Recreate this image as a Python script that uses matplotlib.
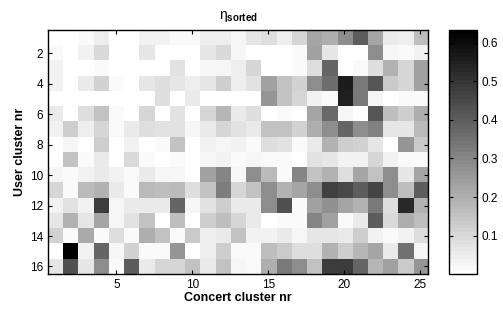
import matplotlib
matplotlib.use("Agg")
import matplotlib.pyplot as plt
import numpy as np

plt.rcParams['font.family'] = ['Liberation Sans', 'DejaVu Sans']
plt.rcParams['mathtext.fontset'] = 'custom'
plt.rcParams['mathtext.rm'] = 'Liberation Sans'
plt.rcParams['mathtext.bf'] = 'Liberation Sans:bold'

# eta values, rows = user cluster 1..16, columns = concert cluster 1..25
r1 = [0, 0, .017, .042, 0, 0, .032, .032, .017, .017, .042, .042, .025, .062, .082, .042, .099, .223, .199, .285, .397, .223, .057, .042, .161]
r2 = [.012, 0, .037, .092, 0, 0, .067, 0, 0, 0, .062, .092, .025, 0, 0, 0, .012, .231, .062, 0, 0, .285, .025, .017, .037]
r3 = [.032, 0, 0, .012, 0, 0, 0, 0, .074, 0, .025, .025, .042, .099, 0, 0, .017, .087, .385, 0, .012, .087, .191, .099, .236]
r4 = [.032, 0, .057, .112, .012, 0, .067, .087, .062, .042, .067, .124, .042, .074, .236, .149, .112, .285, .360, .563, .335, .422, .137, .107, .236]
r5 = [0, 0, 0, 0, 0, 0, 0, .087, 0, .057, 0, 0, 0, 0, .261, .149, .099, .032, .017, .546, .335, .025, 0, .012, .012]
r6 = [.057, 0, .087, .149, .012, 0, .099, 0, .074, 0, .099, .181, .057, .082, 0, .012, 0, .223, .372, .025, 0, .422, .161, .124, .206]
r7 = [.037, .124, .042, .107, .012, .05, .087, .074, .074, .025, .057, .099, .074, .057, .149, .149, .112, .206, .285, .385, .285, .31, .067, .067, .174]
r8 = [0, .025, 0, .124, 0, .03, 0, .017, .149, 0, .032, .025, .032, .017, .087, .074, .017, .057, .191, .124, .112, .067, 0, .261, .137]
r9 = [0, .156, .012, .05, 0, .092, .012, 0, .012, 0, .025, .032, .017, .025, .017, .012, 0, .074, .067, .037, .032, .099, .032, .012, .012]
r10 = [.025, .012, .032, .05, .032, .012, .05, .025, .025, 0, .231, .298, .025, .285, .174, .012, .298, .149, .191, .087, .223, .149, .285, .067, .223]
r11 = [.099, .012, .174, .191, .057, .012, .174, .161, .174, .087, .149, .323, .099, .149, .285, .191, .223, .285, .472, .454, .397, .459, .285, .161, .397]
r12 = [.032, .074, .032, .484, .025, .05, .057, .057, .385, .025, .074, .124, .05, .05, .285, .434, .012, .236, .273, .223, .191, .335, .087, .529, .191]
r13 = [.062, .191, .062, .223, .025, .074, .149, 0, .161, 0, .124, .166, .099, .05, 0, .012, .012, .298, .236, .012, .05, .397, .092, .206, .161]
r14 = [.112, .012, .211, .012, .087, .012, .206, .149, .012, .137, .042, .05, .149, .037, .037, .05, .025, .067, .067, .05, .124, .037, .017, .032, .082]
r15 = [0, .633, .037, .385, .025, .112, .012, .012, .261, 0, .042, .124, .012, .012, .161, .137, .082, .082, .191, .124, .181, .223, .057, .347, .025]
r16 = [.062, .434, .062, .285, .012, .397, .057, .099, .099, .149, .057, .156, .025, .012, .206, .335, .285, .149, .484, .484, .385, .186, .236, .137, .261]

eta = np.array([r1, r2, r3, r4, r5, r6, r7, r8, r9, r10, r11, r12, r13, r14, r15, r16])
n_users, n_concerts = eta.shape

fig = plt.figure(figsize=(5.03, 3.14), dpi=100)
ax = fig.add_axes([0.0954, 0.127, 0.7555, 0.777])
cax = fig.add_axes([0.893, 0.127, 0.055, 0.777])

cmap = plt.get_cmap('gray_r', 64)
im = ax.imshow(eta, cmap=cmap, vmin=0, vmax=0.633, aspect='auto',
               interpolation='nearest',
               extent=[0.5, n_concerts + 0.5, n_users + 0.5, 0.5])

ax.set_xticks([5, 10, 15, 20, 25])
ax.set_yticks(range(2, 17, 2))
ax.tick_params(direction='in', top=True, right=True, labelsize=8.5, length=3, width=0.8)
for s in ax.spines.values():
    s.set_linewidth(1.0)
ax.set_xlabel('Concert cluster nr', fontsize=9, fontweight='bold', labelpad=1)
ax.set_ylabel('User cluster nr', fontsize=9, fontweight='bold', labelpad=3)
ax.set_title('η$_{\\mathbf{sorted}}$', fontsize=10, pad=8)

cb = fig.colorbar(im, cax=cax)
cb.set_ticks([0.1, 0.2, 0.3, 0.4, 0.5, 0.6])
cax.tick_params(direction='in', left=True, right=True, labelsize=8.5, length=3, width=0.8)
cb.outline.set_linewidth(1.0)

fig.savefig('out.png', dpi=100)
